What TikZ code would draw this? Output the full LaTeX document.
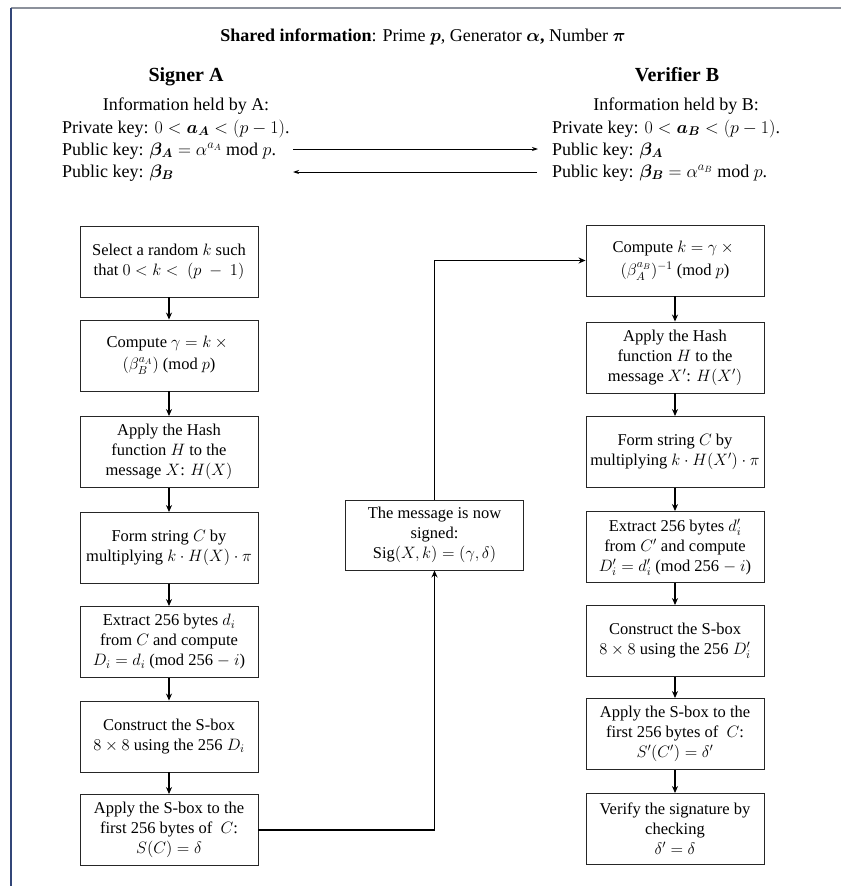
\documentclass[tikz,border=0pt]{standalone}
\usepackage{fix-cm}
\usepackage{amsmath,bm}
\usepackage{fontspec}
\setmainfont{Liberation Serif}
\usetikzlibrary{arrows.meta}

\tikzset{
  box/.style={draw=black!85, line width=0.9pt, minimum width=178pt, minimum height=71pt,
              align=center, inner sep=2pt, font=\fontsize{16.5}{20}\selectfont},
  flow/.style={line width=1.6pt, -{Stealth[length=7pt,width=6pt]}},
  keyarrow/.style={line width=0.9pt, -{Stealth[length=6pt,width=4pt]}},
  hdr/.style={font=\fontsize{18}{21}\selectfont, inner sep=0pt},
  ttl/.style={font=\fontsize{20}{24}\selectfont\bfseries, inner sep=0pt},
}

\begin{document}
\begin{tikzpicture}[x=1pt,y=-1pt]
\useasboundingbox (0,0) rectangle (841,886);
\fill[white] (0,0) rectangle (841,886);
% frame lines
\draw[line width=1.4pt, color={rgb,255:red,140;green,145;blue,155}] (11,8) -- (841,8);
\draw[line width=1.4pt, color={rgb,255:red,50;green,70;blue,120}] (11,8) -- (11,886);

% header
\node[hdr, anchor=base] (shared) at (423,41) {\textbf{Shared information}: Prime $\bm{p}$, Generator $\bm{\alpha}$\textbf{,} Number $\bm{\pi}$};
\node[ttl, anchor=base] (signer) at (186,81) {Signer A};
\node[ttl, anchor=base] (verifier) at (677,81) {Verifier B};

\node[hdr, anchor=base] (infoA) at (186,110) {Information held by A:};
\node[hdr, anchor=base west] (privA) at (62,133) {Private key: $0 < \bm{a_A} < (p-1)$.};
\node[hdr, anchor=base west] (pubA) at (62,155) {Public key: $\bm{\beta_A} = \alpha^{a_A}$ mod $p$.};
\node[hdr, anchor=base west] (pubBA) at (62,177) {Public key: $\bm{\beta_B}$};

\node[hdr, anchor=base] (infoB) at (676,110) {Information held by B:};
\node[hdr, anchor=base west] (privB) at (552,133) {Private key: $0 < \bm{a_B} < (p-1)$.};
\node[hdr, anchor=base west] (pubAB) at (552,155) {Public key: $\bm{\beta_A}$};
\node[hdr, anchor=base west] (pubB) at (552,177) {Public key: $\bm{\beta_B} = \alpha^{a_B}$ mod $p$.};

\coordinate (k1s) at (293,149);
\coordinate (k1e) at (538,149);
\coordinate (k2s) at (537,172);
\coordinate (k2e) at (293,172);
\draw[keyarrow] (k1s) -- (k1e);
\draw[keyarrow] (k2s) -- (k2e);

% left column (Signer A)
\node[box] (L1) at (169,261.5) {Select a random $k$ such\\that $0<k<\ (p\ -\ 1)$};
\node[box] (L2) at (169,355.5) {Compute $\gamma = k\times{}$\\[2pt]$(\beta_B^{a_A})$ (mod $p$)};
\node[box] (L3) at (169,452) {Apply the Hash\\function $H$ to the\\message $X$: $H(X)$};
\node[box] (L4) at (169,548) {Form string $C$ by\\multiplying $k\cdot H(X)\cdot\pi$};
\node[box] (L5) at (169,642) {Extract 256 bytes $d_i$\\from $C$ and compute\\$D_i = d_i$ (mod 256 $-$ $i$)};
\node[box] (L6) at (169,736.5) {Construct the S-box\\$8\times 8$ using the 256 $D_i$};
\node[box] (L7) at (169,830) {Apply the S-box to the\\first 256 bytes of \ $C$:\\$S(C)=\delta$};

% middle
\node[box, minimum height=70pt] (M) at (434.5,535) {The message is now\\signed:\\$\mathrm{Sig}(X,k)=(\gamma,\delta)$};

% right column (Verifier B)
\node[box] (R1) at (675,260.5) {Compute $k=\gamma\times{}$\\[3pt]$(\beta_A^{a_B})^{-1}$ (mod $p$)};
\node[box] (R2) at (675,357.5) {Apply the Hash\\function $H$ to the\\message $X'$: $H(X')$};
\node[box] (R3) at (675,452) {Form string $C$ by\\multiplying $k\cdot H(X')\cdot\pi$};
\node[box] (R4) at (675,547) {Extract 256 bytes $d'_i$\\from $C'$ and compute\\$D'_i = d'_i$ (mod 256 $-$ $i$)};
\node[box] (R5) at (675,641) {Construct the S-box\\$8\times 8$ using the 256 $D'_i$};
\node[box] (R6) at (675,734) {Apply the S-box to the\\first 256 bytes of \ $C$:\\$S'(C')=\delta'$};
\node[box] (R7) at (675,829) {Verify the signature by\\checking\\$\delta'=\delta$};

% vertical flows
\foreach \a/\b in {L1/L2,L2/L3,L3/L4,L4/L5,L5/L6,L6/L7,R1/R2,R2/R3,R3/R4,R4/R5,R5/R6,R6/R7}
  \draw[flow] (\a.south) -- (\b.north);

% cross connectors
\draw[flow] (L7.east) -- (L7.east -| M.south) -- (M.south);
\draw[flow] (M.north) |- (R1.west);
\end{tikzpicture}
\end{document}
